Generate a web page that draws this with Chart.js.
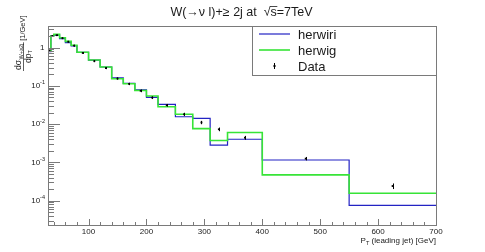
<!DOCTYPE html>
<html><head><meta charset="utf-8">
<script src="https://cdn.jsdelivr.net/npm/chart.js@4.4.1/dist/chart.umd.min.js"></script>
<style>html,body{margin:0;padding:0;background:#fff}#wrap{width:485px;height:252px}</style>
</head><body><div id="wrap"><canvas id="c" width="485" height="252"></canvas></div>
<script>
const binEdges = [30,35,40,50,60,70,80,100,120,140,160,180,200,220,250,280,310,340,400,550,700];
const dataValues = [0.82,2.0,2.1,1.75,1.42,1.12,0.72,0.44,0.29,0.155,0.112,0.074,0.049,0.031,0.018,0.011,0.0073,0.0044,0.00125,0.00024];
const dataErrors = [0.05,0.1,0.1,0.09,0.07,0.06,0.04,0.025,0.018,0.01,0.008,0.006,0.004,0.0025,0.0017,0.0011,0.0008,0.0005,0.00013,0.00004];
const herwiriValues = [0.78,2.05,2.1,1.7,1.35,1.1,0.75,0.47,0.31,0.16,0.115,0.078,0.05,0.0325,0.0155,0.014,0.0028,0.004,0.00115,0.000075];
const herwigValues = [0.8,2.0,2.2,1.8,1.45,1.15,0.75,0.47,0.31,0.152,0.113,0.075,0.054,0.0283,0.018,0.0076,0.0037,0.006,0.00047,0.000155];
const xTickLabels = [100,200,300,400,500,600,700];
const yTickDecades = [0,-1,-2,-3,-4];
const seriesNames = ['herwiri','herwig','Data'];

const FONT = '"Liberation Sans", Arial, Helvetica, sans-serif';
const BLUE = 'rgb(35,35,195)';
const GREEN = 'rgb(55,228,55)';
const FRAME = '#7a7a7a';
const TXT = '#1a1a1a';

function stepPoints(vals){
  const pts = [];
  for (let i = 0; i < binEdges.length; i++) {
    pts.push({x: binEdges[i], y: vals[Math.min(i, vals.length-1)]});
  }
  return pts;
}
const dataPoints = dataValues.map((v,i)=>({x:(binEdges[i]+binEdges[i+1])/2, y:v}));

const rootPlugin = {
  id: 'rootStyle',
  afterDatasetsDraw(chart){
    const ctx = chart.ctx, a = chart.chartArea;
    const xs = chart.scales.x, ys = chart.scales.y;
    ctx.save();
    ctx.strokeStyle = '#000'; ctx.lineWidth = 1;
    dataPoints.forEach((p,i)=>{
      const px = Math.round(xs.getPixelForValue(p.x))+0.5;
      const y1 = ys.getPixelForValue(p.y - dataErrors[i]);
      const y2 = ys.getPixelForValue(p.y + dataErrors[i]);
      ctx.beginPath(); ctx.moveTo(px, y1); ctx.lineTo(px, y2); ctx.stroke();
    });
    ctx.strokeStyle = FRAME; ctx.lineWidth = 1;
    ctx.strokeRect(Math.round(a.left)+0.5, Math.round(a.top)+0.5, Math.round(a.right-a.left), Math.round(a.bottom-a.top));
    ctx.beginPath();
    for (let v = 40; v <= 700; v += 20) {
      const px = Math.round(xs.getPixelForValue(v))+0.5;
      const len = (v % 100 === 0) ? 6 : 3;
      ctx.moveTo(px, a.bottom); ctx.lineTo(px, a.bottom - len);
    }
    for (let d = -5; d <= 0; d++) {
      for (let m = 1; m <= 9; m++) {
        const v = m * Math.pow(10, d);
        if (v < ys.min || v > ys.max) continue;
        const py = Math.round(ys.getPixelForValue(v))+0.5;
        const len = (m === 1) ? 12 : 6;
        ctx.moveTo(a.left, py); ctx.lineTo(a.left + len, py);
      }
    }
    ctx.stroke();
    ctx.restore();
  },
  afterDraw(chart){
    const ctx = chart.ctx, a = chart.chartArea;
    const xs = chart.scales.x, ys = chart.scales.y;
    ctx.save();
    ctx.fillStyle = TXT;
    ctx.font = '8px ' + FONT; ctx.textAlign = 'center'; ctx.textBaseline = 'middle';
    xTickLabels.forEach(v=>{ ctx.fillText(String(v), xs.getPixelForValue(v), 232); });
    ctx.textAlign = 'left'; ctx.textBaseline = 'alphabetic';
    const t1 = 'P', t2 = 'T', t3 = ' (leading jet) [GeV]';
    ctx.font = '8px ' + FONT; const w1 = ctx.measureText(t1).width, w3 = ctx.measureText(t3).width;
    ctx.font = '5.5px ' + FONT; const w2 = ctx.measureText(t2).width;
    let x0 = a.right - (w1+w2+w3);
    ctx.font = '8px ' + FONT; ctx.fillText(t1, x0, 243);
    ctx.font = '5.5px ' + FONT; ctx.fillText(t2, x0+w1, 245);
    ctx.font = '8px ' + FONT; ctx.fillText(t3, x0+w1+w2, 243);
    yTickDecades.forEach(d=>{
      const py = ys.getPixelForValue(Math.pow(10,d));
      if (d === 0) {
        ctx.font = '8px ' + FONT; ctx.textAlign = 'right'; ctx.textBaseline = 'middle';
        ctx.fillText('1', 44.5, py);
      } else {
        ctx.font = '5.5px ' + FONT; ctx.textAlign = 'right'; ctx.textBaseline = 'middle';
        const ex = String(d); const we = ctx.measureText(ex).width;
        ctx.fillText(ex, 45, py - 3);
        ctx.font = '8px ' + FONT;
        ctx.fillText('10', 45 - we, py);
      }
    });
    function rot(str, px, py, size){
      ctx.save(); ctx.translate(px, py); ctx.rotate(-Math.PI/2);
      ctx.font = size + 'px ' + FONT; ctx.textAlign = 'left'; ctx.textBaseline = 'alphabetic';
      ctx.fillText(str, 0, 0); ctx.restore();
    }
    function mw(str, size){ ctx.font = size + 'px ' + FONT; return ctx.measureText(str).width; }
    const base = 70;
    const nA = 'd\u03C3', nB = 'W+\u22652j';
    const wA = mw(nA, 8.5), wB = mw(nB, 5.5);
    rot(nA, 20.5, base, 8.5);
    rot(nB, 22.5, base - wA - 0.5, 5.5);
    const numW = wA + wB + 1;
    const dA = 'dp', dB = 'T';
    const wdA = mw(dA, 8.5), wdB = mw(dB, 5.5);
    const denW = wdA + wdB;
    const cy = base - numW/2;
    rot(dA, 30.5, cy + denW/2, 8.5);
    rot(dB, 32, cy + denW/2 - wdA, 5.5);
    ctx.strokeStyle = TXT; ctx.lineWidth = 0.7;
    ctx.beginPath(); ctx.moveTo(23.5, base + 1); ctx.lineTo(23.5, base - numW - 1); ctx.stroke();
    rot('[1/GeV]', 25, base - numW - 2.5, 7.5);
    ctx.fillStyle = TXT; ctx.textAlign = 'left'; ctx.textBaseline = 'alphabetic';
    const tf = '12.5px ' + FONT;
    ctx.font = tf;
    const p1 = 'W(\u2192\u03BD l)+\u2265 2j at  ', p2 = '\u221A', p3 = 's', p4 = '=7TeV';
    const W1 = ctx.measureText(p1).width, W2 = ctx.measureText(p2).width, W3 = ctx.measureText(p3).width, W4 = ctx.measureText(p4).width;
    let tx = 241.5 - (W1+W2+W3+W4)/2; const ty = 16;
    ctx.fillText(p1, tx, ty); tx += W1;
    ctx.fillText(p2, tx, ty); tx += W2;
    ctx.fillText(p3, tx, ty);
    ctx.strokeStyle = TXT; ctx.lineWidth = 0.8;
    ctx.beginPath(); ctx.moveTo(tx - 0.5, ty - 9.5); ctx.lineTo(tx + W3 + 0.5, ty - 9.5); ctx.stroke();
    tx += W3;
    ctx.fillText(p4, tx, ty);
    const lx0 = 252, ly0 = Math.round(a.top), lx1 = Math.round(a.right), ly1 = 75;
    ctx.fillStyle = '#fff'; ctx.fillRect(lx0, ly0, lx1-lx0, ly1-ly0);
    ctx.strokeStyle = FRAME; ctx.lineWidth = 1;
    ctx.strokeRect(lx0+0.5, ly0+0.5, lx1-lx0, ly1-ly0);
    const rows = [34, 50, 66];
    ctx.font = '13px ' + FONT; ctx.fillStyle = TXT; ctx.textBaseline = 'middle'; ctx.textAlign = 'left';
    ctx.strokeStyle = BLUE; ctx.lineWidth = 1.2;
    ctx.beginPath(); ctx.moveTo(259, rows[0]); ctx.lineTo(290, rows[0]); ctx.stroke();
    ctx.strokeStyle = GREEN; ctx.lineWidth = 1.6;
    ctx.beginPath(); ctx.moveTo(259, rows[1]); ctx.lineTo(290, rows[1]); ctx.stroke();
    ctx.fillStyle = '#000'; ctx.fillRect(273.5, rows[2]-1, 2, 2);
    ctx.strokeStyle = '#000'; ctx.lineWidth = 1;
    ctx.beginPath(); ctx.moveTo(274.5, rows[2]-3); ctx.lineTo(274.5, rows[2]+3); ctx.stroke();
    ctx.fillStyle = TXT;
    seriesNames.forEach((n,i)=> ctx.fillText(n, 298, rows[i]+1));
    ctx.restore();
  }
};

new Chart(document.getElementById('c'), {
  type: 'line',
  data: {
    datasets: [
      { label: seriesNames[2], data: dataPoints, showLine: false, pointStyle: 'rect', pointRadius: 1.3,
        pointBackgroundColor: '#000', pointBorderWidth: 0, order: 0 },
      { label: seriesNames[1], data: stepPoints(herwigValues), stepped: true, borderColor: GREEN, borderWidth: 1.6,
        pointRadius: 0, fill: false, order: 1 },
      { label: seriesNames[0], data: stepPoints(herwiriValues), stepped: true, borderColor: BLUE, borderWidth: 1.2,
        pointRadius: 0, fill: false, order: 2 }
    ]
  },
  options: {
    responsive: false, animation: false, devicePixelRatio: 1,
    layout: { padding: { left: 48, right: 49, top: 26, bottom: 27 } },
    plugins: { legend: { display: false }, tooltip: { enabled: false }, title: { display: false } },
    scales: {
      x: { type: 'linear', min: 30, max: 700, display: false },
      y: { type: 'logarithmic', min: 2.3e-5, max: 3.65, display: false }
    }
  },
  plugins: [rootPlugin]
});
</script>
</body></html>
